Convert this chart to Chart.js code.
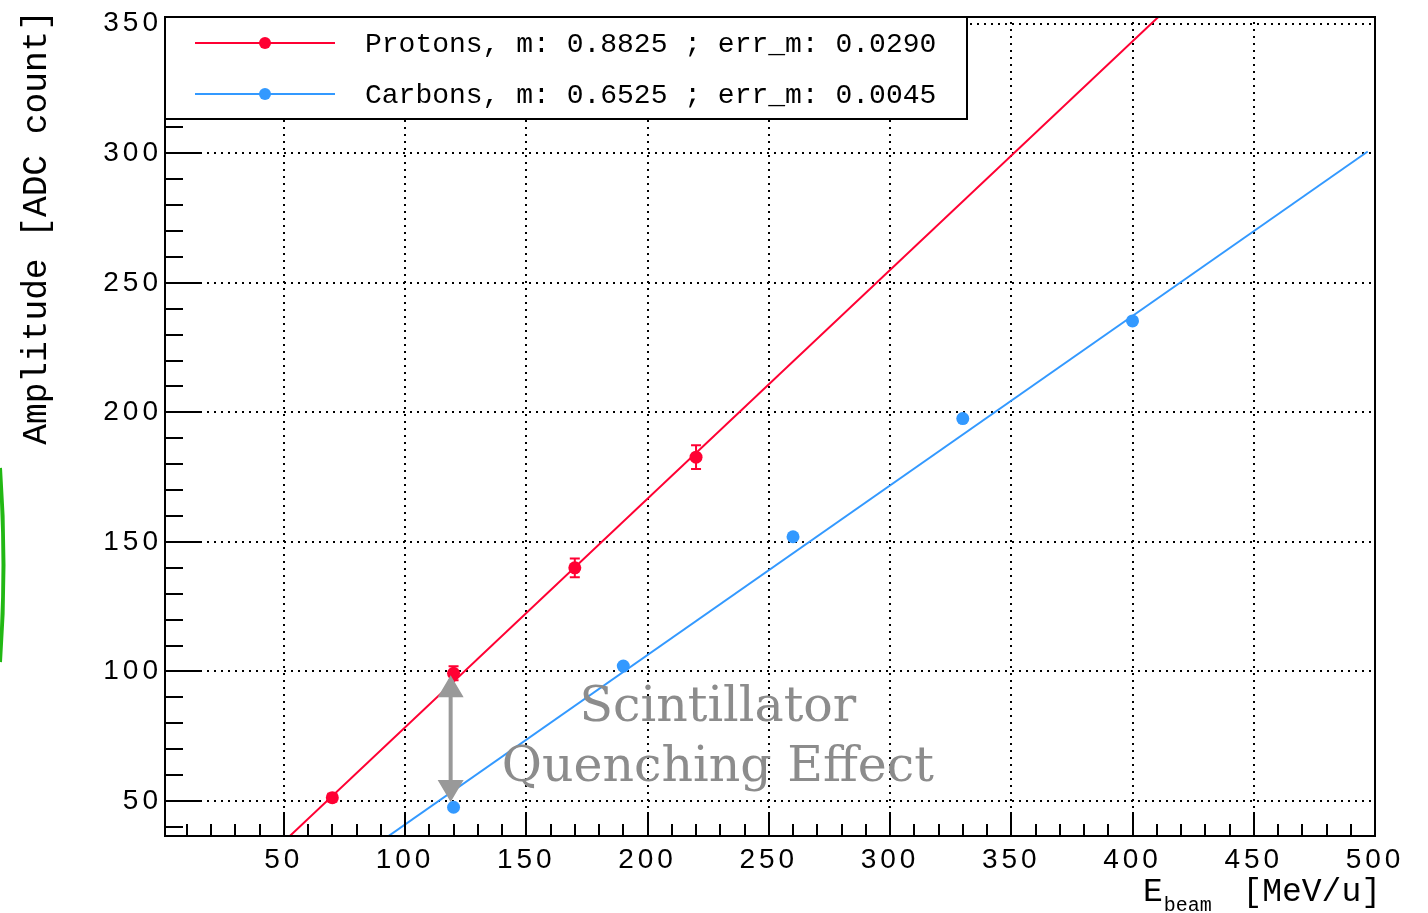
<!DOCTYPE html>
<html>
<head>
<meta charset="utf-8">
<script src="https://cdn.jsdelivr.net/npm/chart.js@4.4.1/dist/chart.umd.min.js"></script>
<style>
  html, body { margin: 0; padding: 0; background: #fff; }
  #wrap { width: 1428px; height: 913px; }
</style>
</head>
<body>
<div id="wrap"><canvas id="canvas" width="1428" height="913"></canvas></div>
<script>
// beam energy [MeV/u] vs. amplitude [ADC count]
var protonEnergy = [70, 120, 170, 220];
var protonAmp = [51.3, 99.3, 140.0, 182.7];
var protonErr = [1.5, 2.7, 3.6, 4.6];

var carbonEnergy = [120, 190, 260, 330, 400];
var carbonAmp = [47.6, 102.1, 152.0, 197.6, 235.3];
var carbonErr = [0.4, 0.4, 0.4, 0.4, 0.4];

// end points of the linear fits
var protonFitX = [50, 412];
var protonFitY = [34.3, 353.8];
var carbonFitX = [90, 497];
var carbonFitY = [34.4, 300.7];

var protonLabel = 'Protons, m: 0.8825 ; err_m: 0.0290';
var carbonLabel = 'Carbons, m: 0.6525 ; err_m: 0.0045';

// labelled axis divisions
var xTicks = [50, 100, 150, 200, 250, 300, 350, 400, 450, 500];
var yTicks = [50, 100, 150, 200, 250, 300, 350];

var RED = '#ff0033';
var BLUE = '#3399ff';

function points(xs, ys) {
        return xs.map(function (x, i) { return { x: x, y: ys[i] }; });
}

function fixedTicks(values) {
        return function (scale) {
                scale.ticks = values.map(function (v) { return { value: v }; });
        };
}

var rootStyle = {
        id: 'rootStyle',
        beforeDraw: function (chart) {
                chart.ctx.letterSpacing = '4px';
        },
        beforeDatasetsDraw: function (chart) {
                var ctx = chart.ctx, a = chart.chartArea, xs = chart.scales.x, ys = chart.scales.y;
                ctx.save();
                ctx.letterSpacing = '0px';
                // dotted grid
                ctx.strokeStyle = '#000';
                ctx.lineWidth = 2;
                ctx.setLineDash([2, 5]);
                ctx.beginPath();
                xs.ticks.forEach(function (t) {
                        var px = Math.round(xs.getPixelForValue(t.value));
                        if (px >= a.right - 2) return;
                        ctx.moveTo(px, a.bottom);
                        ctx.lineTo(px, a.top);
                });
                ys.ticks.forEach(function (t) {
                        var py = Math.round(ys.getPixelForValue(t.value));
                        ctx.moveTo(a.left, py);
                        ctx.lineTo(a.right, py);
                });
                ctx.stroke();
                ctx.setLineDash([]);
                // error bars
                chart.data.datasets.forEach(function (ds, i) {
                        if (!ds.errors) return;
                        var meta = chart.getDatasetMeta(i);
                        ctx.strokeStyle = ds.borderColor;
                        ctx.lineWidth = 2;
                        meta.data.forEach(function (el, j) {
                                var v = ds.data[j].y, e = ds.errors[j];
                                var top = ys.getPixelForValue(v + e), bot = ys.getPixelForValue(v - e);
                                ctx.beginPath();
                                ctx.moveTo(el.x, top); ctx.lineTo(el.x, bot);
                                ctx.moveTo(el.x - 5, top); ctx.lineTo(el.x + 5, top);
                                ctx.moveTo(el.x - 5, bot); ctx.lineTo(el.x + 5, bot);
                                ctx.stroke();
                        });
                });
                ctx.restore();
        },
        afterDraw: function (chart) {
                var ctx = chart.ctx, a = chart.chartArea, xs = chart.scales.x, ys = chart.scales.y;
                var v, p;
                ctx.save();
                ctx.letterSpacing = '0px';

                // frame and inward ticks
                ctx.strokeStyle = '#000';
                ctx.lineWidth = 2;
                ctx.strokeRect(a.left, a.top, a.right - a.left, a.bottom - a.top);
                ctx.beginPath();
                for (v = Math.ceil(xs.min / 10) * 10; v <= xs.max; v += 10) {
                        p = Math.round(xs.getPixelForValue(v));
                        ctx.moveTo(p, a.bottom);
                        ctx.lineTo(p, a.bottom - (v % 50 === 0 ? 24 : 12));
                }
                for (v = Math.ceil(ys.min / 10) * 10; v <= ys.max; v += 10) {
                        p = Math.round(ys.getPixelForValue(v));
                        ctx.moveTo(a.left, p);
                        ctx.lineTo(a.left + (v % 50 === 0 ? 36 : 18), p);
                }
                ctx.stroke();

                // legend box
                var lx = a.left, ly = a.top, lw = 802, lh = 102;
                ctx.fillStyle = '#fff';
                ctx.fillRect(lx, ly, lw, lh);
                ctx.strokeRect(lx, ly, lw, lh);
                chart.data.datasets.filter(function (d) { return d.inLegend; }).forEach(function (ds, k) {
                        var cy = ly + 26 + k * 51;
                        ctx.strokeStyle = ds.borderColor;
                        ctx.lineWidth = 2;
                        ctx.beginPath();
                        ctx.moveTo(lx + 30, cy);
                        ctx.lineTo(lx + 170, cy);
                        ctx.stroke();
                        ctx.fillStyle = ds.backgroundColor;
                        ctx.beginPath();
                        ctx.arc(lx + 100, cy, 6, 0, Math.PI * 2);
                        ctx.fill();
                        ctx.fillStyle = '#000';
                        ctx.font = '28px "Liberation Mono"';
                        ctx.textAlign = 'left';
                        ctx.textBaseline = 'middle';
                        ctx.fillText(ds.label, lx + 200, cy + 2);
                });

                // axis titles
                ctx.fillStyle = '#000';
                ctx.save();
                ctx.translate(37, 10);
                ctx.rotate(-Math.PI / 2);
                ctx.font = '34.5px "Liberation Mono"';
                ctx.textAlign = 'right';
                ctx.textBaseline = 'middle';
                ctx.fillText('Amplitude [ADC count]', 0, 0);
                ctx.restore();

                ctx.textBaseline = 'alphabetic';
                ctx.font = '33px "Liberation Mono"';
                ctx.textAlign = 'right';
                ctx.fillText('[MeV/u]', 1381, 901);
                ctx.textAlign = 'left';
                ctx.fillText('E', 1143, 901);
                var ew = ctx.measureText('E').width;
                ctx.font = '20px "Liberation Mono"';
                ctx.fillText('beam', 1143 + ew + 1, 911);

                // quenching annotation
                var gray = '#999999';
                var ax = xs.getPixelForValue(118.8);
                var at = ys.getPixelForValue(98.5), ab = ys.getPixelForValue(49.6);
                ctx.strokeStyle = gray;
                ctx.fillStyle = gray;
                ctx.lineWidth = 4;
                ctx.beginPath();
                ctx.moveTo(ax, at + 20);
                ctx.lineTo(ax, ab - 20);
                ctx.stroke();
                ctx.beginPath();
                ctx.moveTo(ax, at); ctx.lineTo(ax - 13, at + 22); ctx.lineTo(ax + 13, at + 22);
                ctx.closePath();
                ctx.moveTo(ax, ab); ctx.lineTo(ax - 13, ab - 22); ctx.lineTo(ax + 13, ab - 22);
                ctx.closePath();
                ctx.fill();

                ctx.fillStyle = '#8c8c8c';
                ctx.font = '49px "DejaVu Serif"';
                ctx.textAlign = 'center';
                ctx.textBaseline = 'middle';
                ctx.fillText('Scintillator', xs.getPixelForValue(229), ys.getPixelForValue(85.8));
                ctx.fillText('Quenching Effect', xs.getPixelForValue(229), ys.getPixelForValue(62.7));

                // green pen stroke at the left margin
                ctx.strokeStyle = '#22b814';
                ctx.lineWidth = 4;
                ctx.beginPath();
                ctx.moveTo(0, 468);
                ctx.quadraticCurveTo(7, 565, 0, 662);
                ctx.stroke();

                ctx.restore();
        }
};

var config = {
        type: 'scatter',
        data: {
                datasets: [{
                        label: protonLabel,
                        inLegend: true,
                        data: points(protonEnergy, protonAmp),
                        errors: protonErr,
                        backgroundColor: RED,
                        borderColor: RED,
                        pointRadius: 6.5,
                        pointBorderWidth: 0,
                        showLine: false
                }, {
                        label: carbonLabel,
                        inLegend: true,
                        data: points(carbonEnergy, carbonAmp),
                        errors: carbonErr,
                        backgroundColor: BLUE,
                        borderColor: BLUE,
                        pointRadius: 6.5,
                        pointBorderWidth: 0,
                        showLine: false
                }, {
                        label: 'proton fit',
                        data: points(protonFitX, protonFitY),
                        borderColor: RED,
                        borderWidth: 2,
                        pointRadius: 0,
                        showLine: true,
                        fill: false
                }, {
                        label: 'carbon fit',
                        data: points(carbonFitX, carbonFitY),
                        borderColor: BLUE,
                        borderWidth: 2,
                        pointRadius: 0,
                        showLine: true,
                        fill: false
                }]
        },
        options: {
                responsive: false,
                animation: false,
                events: [],
                layout: { padding: { top: 15, right: 53, left: 0, bottom: 0 } },
                plugins: {
                        legend: { display: false },
                        tooltip: { enabled: false }
                },
                scales: {
                        x: {
                                type: 'linear',
                                position: 'bottom',
                                min: 1,
                                max: 500,
                                grid: { display: false, drawTicks: false },
                                border: { display: false },
                                afterBuildTicks: fixedTicks(xTicks),
                                ticks: {
                                        autoSkip: false,
                                        maxRotation: 0,
                                        padding: 10,
                                        color: '#000',
                                        font: { family: 'Liberation Sans', size: 28, lineHeight: 1 }
                                },
                                afterFit: function (s) { s.height = 77; }
                        },
                        y: {
                                type: 'linear',
                                min: 36.5,
                                max: 352.6,
                                grid: { display: false, drawTicks: false },
                                border: { display: false },
                                afterBuildTicks: fixedTicks(yTicks),
                                ticks: {
                                        autoSkip: false,
                                        padding: 3,
                                        color: '#000',
                                        font: { family: 'Liberation Sans', size: 28, lineHeight: 1 }
                                },
                                afterFit: function (s) { s.width = 165; }
                        }
                }
        },
        plugins: [rootStyle]
};

window.onload = function () {
        var ctx = document.getElementById('canvas').getContext('2d');
        window.myChart = new Chart(ctx, config);
};
</script>
</body>
</html>
